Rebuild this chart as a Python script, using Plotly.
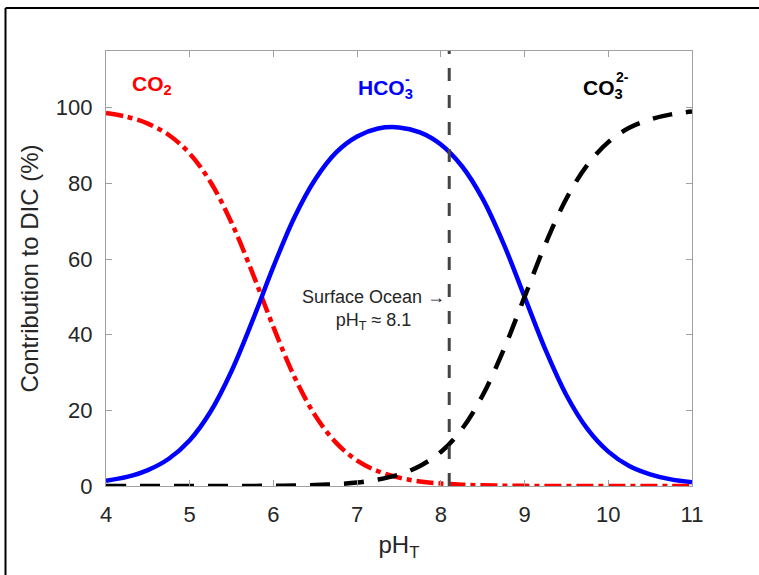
import plotly.graph_objects as go

# ---- data (percent of DIC vs pH_T) ----
ph = [4.0, 4.25, 4.5, 4.75, 5.0, 5.25, 5.5, 5.75, 6.0, 6.25, 6.5, 6.75, 7.0, 7.25,
      7.5, 7.75, 8.0, 8.25, 8.5, 8.75, 9.0, 9.25, 9.5, 9.75, 10.0, 10.25, 10.5, 10.75, 11.0]
co2 = [98.6, 97.6, 95.8, 92.8, 87.9, 80.3, 69.6, 56.3, 42.0, 28.9, 18.6, 11.4, 6.7, 3.9,
       2.2, 1.2, 0.65, 0.34, 0.17, 0.08, 0.04, 0.01, 0.01, 0.0, 0.0, 0.0, 0.0, 0.0, 0.0]
hco3 = [1.4, 2.4, 4.2, 7.2, 12.1, 19.7, 30.4, 43.7, 58.0, 71.0, 81.1, 88.2, 92.4, 94.5,
        94.8, 93.5, 90.3, 84.6, 75.9, 64.0, 50.0, 36.0, 24.0, 15.1, 9.1, 5.3, 3.1, 1.75, 1.0]
co3 = [0.0, 0.0, 0.0, 0.0, 0.0, 0.0, 0.01, 0.02, 0.06, 0.13, 0.26, 0.5, 0.9, 1.7,
       3.0, 5.3, 9.0, 15.0, 24.0, 36.0, 50.0, 64.0, 76.0, 84.9, 90.9, 94.7, 96.9, 98.25, 99.0]
surface_ph = 8.1
x_ticks = [4, 5, 6, 7, 8, 9, 10, 11]
y_ticks = [0, 20, 40, 60, 80, 100]

FONT = "Liberation Sans, Arial, Helvetica, sans-serif"
TXT = "#262626"
AX = "#a0a0a0"

fig = go.Figure()
fig.add_trace(go.Scatter(x=ph, y=co2, mode="lines", line=dict(color="#ff0000", width=4.5,
                         dash="17px,5px,5px,5px", shape="spline"), cliponaxis=False,
                         showlegend=False))
fig.add_trace(go.Scatter(x=ph, y=hco3, mode="lines", line=dict(color="#0000ff", width=4.5,
                         shape="spline"), cliponaxis=False, showlegend=False))
fig.add_trace(go.Scatter(x=ph, y=co3, mode="lines", line=dict(color="#000000", width=4.5,
                         dash="20px,14px", shape="spline"), cliponaxis=False, showlegend=False))
fig.add_trace(go.Scatter(x=[surface_ph, surface_ph], y=[0, 115], mode="lines",
                         line=dict(color="#444444", width=3, dash="13px,14px"),
                         showlegend=False))

ann = [
    dict(x=4.55, y=106.0, text="<b>CO<sub>2</sub></b>", font=dict(size=21, color="#ff0000")),
    dict(x=7.34, y=105.0, text="<b>HCO<sub>3</sub></b>", font=dict(size=21, color="#0000ff")),
    dict(x=7.55, y=107.6, text="<b>-</b>", font=dict(size=14, color="#0000ff"), xanchor="left"),
    dict(x=9.94, y=105.0, text="<b>CO<sub>3</sub></b>", font=dict(size=21, color="#000000")),
    dict(x=10.07, y=108.2, text="<b>2-</b>", font=dict(size=14, color="#000000"), xanchor="left"),
    dict(x=7.20, y=46.5, text="Surface Ocean \u2192<br>pH<sub>T</sub> \u2248 8.1",
         font=dict(size=18, color=TXT)),
]
for a in ann:
    a.setdefault("xanchor", "center")
    fig.add_annotation(xref="x", yref="y", showarrow=False, yanchor="middle", **a)

# outer frame (left and top edges visible)
fig.add_shape(type="line", xref="paper", yref="paper", x0=-0.1715, x1=-0.1715, y0=1.099, y1=-0.3,
              line=dict(color="black", width=2))
fig.add_shape(type="line", xref="paper", yref="paper", x0=-0.1715, x1=1.2, y0=1.099, y1=1.099,
              line=dict(color="black", width=2))

axis_common = dict(showline=True, linecolor=AX, linewidth=1.3, mirror="ticks", ticks="inside",
                   tickcolor=AX, ticklen=6, showgrid=False, zeroline=False,
                   tickfont=dict(family=FONT, size=22, color=TXT))
fig.update_xaxes(range=[4, 11], tickvals=x_ticks, ticklabelstandoff=8,
                 title=dict(text="pH<sub>T</sub>", font=dict(family=FONT, size=24, color=TXT),
                            standoff=10), **axis_common)
fig.update_yaxes(range=[0, 115], tickvals=y_ticks, ticklabelstandoff=8,
                 title=dict(text="Contribution to DIC (%)", font=dict(family=FONT, size=24, color=TXT),
                            standoff=10), **axis_common)

fig.update_layout(width=759, height=575, margin=dict(l=106, r=67, t=51, b=89, autoexpand=False),
                  paper_bgcolor="white", plot_bgcolor="white", font=dict(family=FONT))

fig.write_html("out.html")
